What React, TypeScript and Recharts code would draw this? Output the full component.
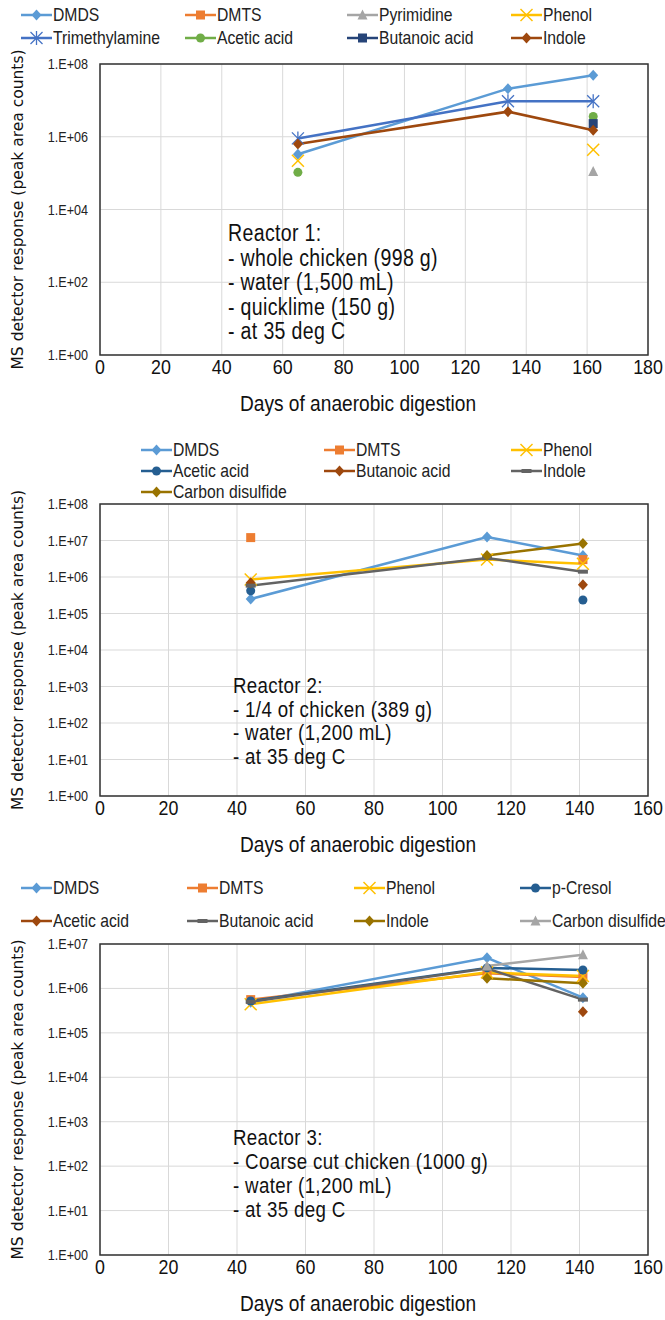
import React from 'react';
import { LineChart, Line, XAxis, YAxis, CartesianGrid, Legend, ReferenceArea } from 'recharts';

const FONT = "'Liberation Sans', Arial, sans-serif";
const WIDE = "'DejaVu Sans', Verdana, sans-serif";
const SQUEEZE = 0.85;

// ---------------- Reactor 1 ----------------
const r1Days = [65, 134, 162];
const r1DMDS = [3.3e5, 2.1e7, 4.9e7];
const r1DMTS = [null, null, null];
const r1Pyrimidine = [null, null, 1.1e5];
const r1Phenol = [2.2e5, null, 4.4e5];
const r1Trimethylamine = [9.0e5, 9.5e6, 9.5e6];
const r1Acetic = [1.05e5, null, 3.6e6];
const r1Butanoic = [null, null, 2.3e6];
const r1Indole = [6.3e5, 4.9e6, 1.5e6];
const r1XTicks = [0, 20, 40, 60, 80, 100, 120, 140, 160, 180];
const r1YTicks = [1, 1e2, 1e4, 1e6, 1e8];
const r1Notes = ['Reactor 1:', '- whole chicken (998 g)', '- water (1,500 mL)', '- quicklime (150 g)', '- at 35 deg C'];

// ---------------- Reactor 2 ----------------
const r2Days = [44, 113, 141];
const r2DMDS = [2.5e5, 1.25e7, 3.9e6];
const r2DMTS = [1.2e7, null, 3.0e6];
const r2Phenol = [8.5e5, 3.0e6, 2.3e6];
const r2Acetic = [4.2e5, null, 2.35e5];
const r2Butanoic = [7.0e5, null, 6.1e5];
const r2Indole = [5.8e5, 3.3e6, 1.4e6];
const r2CarbonDisulfide = [null, 3.9e6, 8.3e6];
const r2XTicks = [0, 20, 40, 60, 80, 100, 120, 140, 160];
const r2YTicks = [1, 1e1, 1e2, 1e3, 1e4, 1e5, 1e6, 1e7, 1e8];
const r2Notes = ['Reactor 2:', '- 1/4 of chicken (389 g)', '- water (1,200 mL)', '- at 35 deg C'];

// ---------------- Reactor 3 ----------------
const r3Days = [44, 113, 141];
const r3DMDS = [4.9e5, 4.9e6, 6.2e5];
const r3DMTS = [5.6e5, 2.2e6, 1.8e6];
const r3Phenol = [4.4e5, 2.3e6, 1.9e6];
const r3PCresol = [5.2e5, 2.9e6, 2.6e6];
const r3Acetic = [null, null, 3.0e5];
const r3Butanoic = [5.0e5, 2.8e6, 5.6e5];
const r3Indole = [null, 1.7e6, 1.3e6];
const r3CarbonDisulfide = [null, 3.2e6, 5.7e6];
const r3XTicks = [0, 20, 40, 60, 80, 100, 120, 140, 160];
const r3YTicks = [1, 1e1, 1e2, 1e3, 1e4, 1e5, 1e6, 1e7];
const r3Notes = ['Reactor 3:', '- Coarse cut chicken (1000 g)', '- water (1,200 mL)', '- at 35 deg C'];

type Val = number | null;
type Style = { color: string; marker: string };

function buildRows(days: number[], series: [string, Val[]][]) {
  return days.map((d, i) => {
    const row: any = { day: d };
    series.forEach(([k, v]) => { row[k] = v[i]; });
    return row;
  });
}

const r1Series: [string, Val[]][] = [
  ['DMDS', r1DMDS], ['DMTS', r1DMTS], ['Pyrimidine', r1Pyrimidine], ['Phenol', r1Phenol],
  ['Trimethylamine', r1Trimethylamine], ['Acetic acid', r1Acetic], ['Butanoic acid', r1Butanoic], ['Indole', r1Indole],
];
const r2Series: [string, Val[]][] = [
  ['DMDS', r2DMDS], ['DMTS', r2DMTS], ['Phenol', r2Phenol], ['Acetic acid', r2Acetic],
  ['Butanoic acid', r2Butanoic], ['Indole', r2Indole], ['Carbon disulfide', r2CarbonDisulfide],
];
const r3Series: [string, Val[]][] = [
  ['DMDS', r3DMDS], ['DMTS', r3DMTS], ['Phenol', r3Phenol], ['p-Cresol', r3PCresol],
  ['Acetic acid', r3Acetic], ['Butanoic acid', r3Butanoic], ['Indole', r3Indole], ['Carbon disulfide', r3CarbonDisulfide],
];

const r1Styles: Record<string, Style> = {
  'DMDS': { color: '#5B9BD5', marker: 'diamond' },
  'DMTS': { color: '#ED7D31', marker: 'square' },
  'Pyrimidine': { color: '#A5A5A5', marker: 'triangle' },
  'Phenol': { color: '#FFC000', marker: 'x' },
  'Trimethylamine': { color: '#4472C4', marker: 'star' },
  'Acetic acid': { color: '#70AD47', marker: 'circle' },
  'Butanoic acid': { color: '#264478', marker: 'square' },
  'Indole': { color: '#9E480E', marker: 'diamond' },
};
const r2Styles: Record<string, Style> = {
  'DMDS': { color: '#5B9BD5', marker: 'diamond' },
  'DMTS': { color: '#ED7D31', marker: 'square' },
  'Phenol': { color: '#FFC000', marker: 'x' },
  'Acetic acid': { color: '#255E91', marker: 'circle' },
  'Butanoic acid': { color: '#9E480E', marker: 'diamond' },
  'Indole': { color: '#636363', marker: 'dash' },
  'Carbon disulfide': { color: '#997300', marker: 'diamond' },
};
const r3Styles: Record<string, Style> = {
  'DMDS': { color: '#5B9BD5', marker: 'diamond' },
  'DMTS': { color: '#ED7D31', marker: 'square' },
  'Phenol': { color: '#FFC000', marker: 'x' },
  'p-Cresol': { color: '#255E91', marker: 'circle' },
  'Acetic acid': { color: '#9E480E', marker: 'diamond' },
  'Butanoic acid': { color: '#636363', marker: 'dash' },
  'Indole': { color: '#997300', marker: 'diamond' },
  'Carbon disulfide': { color: '#A5A5A5', marker: 'triangle' },
};

function Marker({ shape, cx, cy, color }: { shape: string; cx: number; cy: number; color: string }) {
  switch (shape) {
    case 'diamond':
      return <polygon points={`${cx},${cy - 5.5} ${cx + 5},${cy} ${cx},${cy + 5.5} ${cx - 5},${cy}`} fill={color} />;
    case 'square':
      return <rect x={cx - 4.5} y={cy - 4.5} width={9} height={9} fill={color} />;
    case 'triangle':
      return <polygon points={`${cx},${cy - 5.5} ${cx + 5},${cy + 4.5} ${cx - 5},${cy + 4.5}`} fill={color} />;
    case 'circle':
      return <circle cx={cx} cy={cy} r={4.5} fill={color} />;
    case 'x':
      return (
        <g stroke={color} strokeWidth={1.5}>
          <line x1={cx - 6} y1={cy - 6} x2={cx + 6} y2={cy + 6} />
          <line x1={cx - 6} y1={cy + 6} x2={cx + 6} y2={cy - 6} />
        </g>
      );
    case 'star':
      return (
        <g stroke={color} strokeWidth={1.3}>
          <line x1={cx - 6} y1={cy - 6} x2={cx + 6} y2={cy + 6} />
          <line x1={cx - 6} y1={cy + 6} x2={cx + 6} y2={cy - 6} />
          <line x1={cx} y1={cy - 7} x2={cx} y2={cy + 7} />
        </g>
      );
    case 'dash':
      return <rect x={cx - 5} y={cy - 2} width={10} height={4} fill={color} />;
    default:
      return null;
  }
}

function fmtTick(v: number) {
  const e = Math.round(Math.log10(v));
  return `1.E+${String(e).padStart(2, '0')}`;
}

type ChartProps = {
  rows: any[];
  series: [string, Val[]][];
  styles: Record<string, Style>;
  xTicks: number[];
  yTicks: number[];
  height: number;
  plotBottom: number;
  legendCols: number[];
  legendRows: number[];
  notes: string[];
  noteX: number;
  noteY: number;
  noteGap: number;
  noteSize: number;
};

const PLOT_TOP = 64;
const PLOT_LEFT = 100;
const PLOT_RIGHT = 648;

function XTick(props: any) {
  const { x, y, payload } = props;
  return (
    <g transform={`translate(${x},${y})`}>
      <text x={0} y={0} dy={13} textAnchor="middle" transform={`scale(${SQUEEZE},1)`} fontFamily={FONT} fontSize={21} fill="#111">
        {payload.value}
      </text>
    </g>
  );
}

function YTick(props: any) {
  const { x, y, payload } = props;
  return (
    <g transform={`translate(${x},${y})`}>
      <text x={0} y={0} dy={5} textAnchor="end" transform="scale(0.9,1)" fontFamily={FONT} fontSize={14} fill="#222">
        {fmtTick(payload.value)}
      </text>
    </g>
  );
}

function ReactorChart(p: ChartProps) {
  const xMax = p.xTicks[p.xTicks.length - 1];
  const yMin = p.yTicks[0];
  const yMax = p.yTicks[p.yTicks.length - 1];
  const axisH = 40;
  const plotMidY = (PLOT_TOP + p.plotBottom) / 2;
  const order = p.series.map(([n]) => n);

  const legendContent = (props: any) => {
    const payload = [...(props.payload || [])].sort((a: any, b: any) => order.indexOf(a.dataKey) - order.indexOf(b.dataKey));
    const nc = p.legendCols.length;
    return (
      <div style={{ position: 'relative', width: 665, height: 0 }}>
        {payload.map((item: any, i: number) => {
          const st = p.styles[item.dataKey] || { color: item.color, marker: 'circle' };
          const col = i % nc;
          const row = Math.floor(i / nc);
          return (
            <div key={i} style={{ position: 'absolute', left: p.legendCols[col], top: p.legendRows[row] - 11, height: 22, display: 'flex', alignItems: 'center', whiteSpace: 'nowrap' }}>
              <svg width={31} height={22} style={{ display: 'block' }}>
                <line x1={0} x2={31} y1={11} y2={11} stroke={st.color} strokeWidth={2.5} />
                <Marker shape={st.marker} cx={15.5} cy={11} color={st.color} />
              </svg>
              <span style={{ display: 'inline-block', fontFamily: FONT, fontSize: 18.5, color: '#222', marginLeft: 1, lineHeight: '22px', transform: `scaleX(${SQUEEZE})`, transformOrigin: 'left center' }}>{item.value}</span>
            </div>
          );
        })}
      </div>
    );
  };

  return (
    <div style={{ position: 'relative', width: 665, height: p.height }}>
      <LineChart
        width={665}
        height={p.height}
        data={p.rows}
        margin={{ top: PLOT_TOP, right: 665 - PLOT_RIGHT, left: 0, bottom: p.height - p.plotBottom - axisH }}
      >
        <CartesianGrid stroke="#d9d9d9" strokeWidth={1} />
        <XAxis
          type="number"
          dataKey="day"
          domain={[p.xTicks[0], xMax]}
          ticks={p.xTicks}
          height={axisH}
          axisLine={false}
          tickLine={false}
          tickMargin={0}
          interval={0}
          tick={<XTick />}
          label={{
            content: () => (
              <g transform={`translate(358, ${p.plotBottom + 48})`}>
                <text x={0} y={0} textAnchor="middle" dominantBaseline="central" transform="scale(0.87,1)" fontFamily={FONT} fontSize={22} fill="#111">
                  Days of anaerobic digestion
                </text>
              </g>
            ),
          }}
        />
        <YAxis
          scale="log"
          domain={[yMin, yMax]}
          ticks={p.yTicks}
          allowDataOverflow
          width={PLOT_LEFT}
          axisLine={false}
          tickLine={false}
          tickMargin={6}
          interval={0}
          tick={<YTick />}
          label={{
            content: () => (
              <text x={18} y={plotMidY} textAnchor="middle" dominantBaseline="central" transform={`rotate(-90, 18, ${plotMidY})`} fontFamily={WIDE} fontSize={15.5} fill="#111">
                MS detector response (peak area counts)
              </text>
            ),
          }}
        />
        <ReferenceArea x1={p.xTicks[0]} x2={xMax} y1={yMin} y2={yMax} fill="none" stroke="#333" strokeWidth={1.5} ifOverflow="visible" />
        <Legend verticalAlign="top" align="left" wrapperStyle={{ top: 0, left: 0, width: 665 }} content={legendContent} />
        {p.series.map(([name]) => {
          const st = p.styles[name];
          return (
            <Line
              key={name}
              type="linear"
              dataKey={name}
              name={name}
              stroke={st.color}
              strokeWidth={2.5}
              connectNulls={false}
              isAnimationActive={false}
              activeDot={false}
              dot={(dp: any) => {
                const k = `${name}-${dp.index}`;
                if (dp.cx == null || dp.cy == null || dp.value == null || (Array.isArray(dp.value) && dp.value[1] == null)) return <g key={k} />;
                return (
                  <g key={k}>
                    <Marker shape={st.marker} cx={dp.cx} cy={dp.cy} color={st.color} />
                  </g>
                );
              }}
            />
          );
        })}
      </LineChart>
      <div style={{ position: 'absolute', left: p.noteX, top: 0, pointerEvents: 'none' }}>
        {p.notes.map((t, i) => (
          <div key={i} style={{ position: 'absolute', left: 0, top: p.noteY + i * p.noteGap - 13, height: 26, lineHeight: '26px', whiteSpace: 'nowrap', fontFamily: FONT, fontSize: p.noteSize, letterSpacing: 0.4, color: '#111', transform: `scaleX(${SQUEEZE})`, transformOrigin: 'left center' }}>
            {t}
          </div>
        ))}
      </div>
    </div>
  );
}

export default function App() {
  const r1Rows = buildRows(r1Days, r1Series);
  const r2Rows = buildRows(r2Days, r2Series);
  const r3Rows = buildRows(r3Days, r3Series);
  return (
    <div style={{ position: 'absolute', left: 0, top: 0, width: 665, height: 1320, background: '#fff' }}>
      <ReactorChart
        rows={r1Rows} series={r1Series} styles={r1Styles} xTicks={r1XTicks} yTicks={r1YTicks}
        height={440} plotBottom={355} legendCols={[21, 185, 347, 511]} legendRows={[15, 38]}
        notes={r1Notes} noteX={228} noteY={233} noteGap={24.5} noteSize={23}
      />
      <ReactorChart
        rows={r2Rows} series={r2Series} styles={r2Styles} xTicks={r2XTicks} yTicks={r2YTicks}
        height={440} plotBottom={356} legendCols={[141, 324, 511]} legendRows={[10, 31, 52]}
        notes={r2Notes} noteX={233} noteY={246} noteGap={23.5} noteSize={22}
      />
      <ReactorChart
        rows={r3Rows} series={r3Series} styles={r3Styles} xTicks={r3XTicks} yTicks={r3YTicks}
        height={440} plotBottom={375} legendCols={[21, 187, 354, 520]} legendRows={[8, 41]}
        notes={r3Notes} noteX={233} noteY={258} noteGap={24} noteSize={22}
      />
    </div>
  );
}
